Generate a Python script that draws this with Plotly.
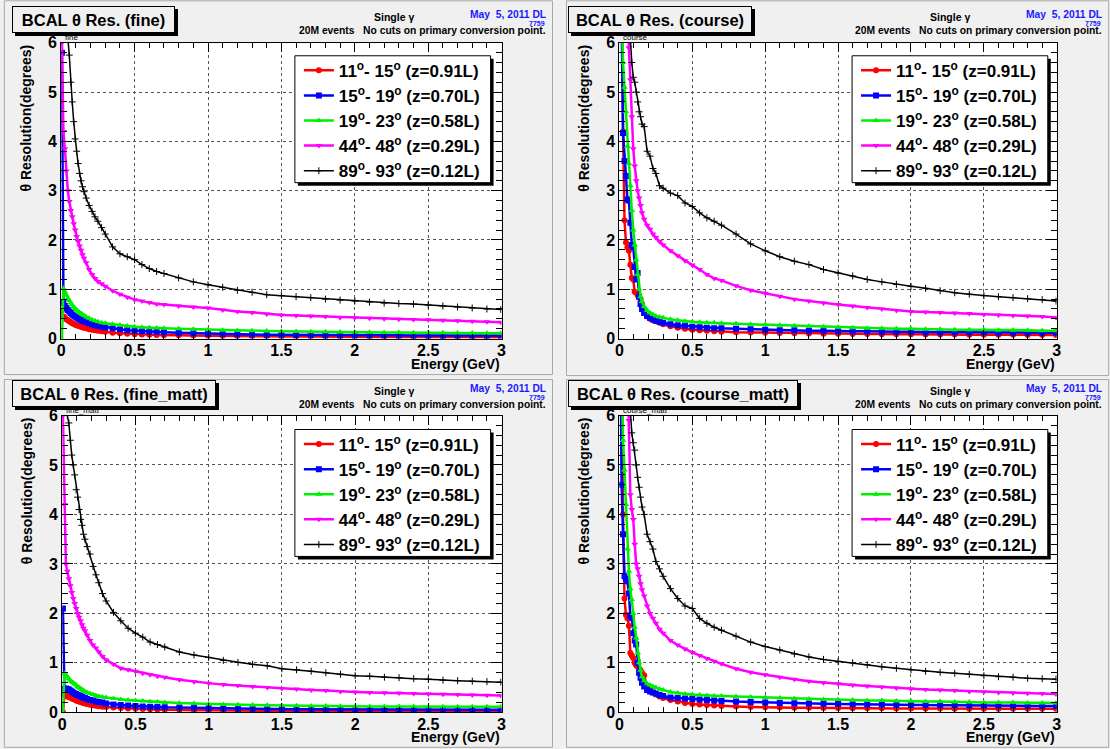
import plotly.graph_objects as go

W, H = 1110, 749

energy = [0.005, 0.015, 0.025, 0.035, 0.045, 0.055, 0.065, 0.075, 0.085, 0.095,
          0.105, 0.115, 0.125, 0.135, 0.145, 0.155, 0.17, 0.19, 0.21, 0.23,
          0.25, 0.275, 0.3, 0.35, 0.4, 0.45, 0.5, 0.55, 0.6, 0.65,
          0.7, 0.8, 0.9, 1.0, 1.1, 1.2, 1.3, 1.4, 1.5, 1.6,
          1.7, 1.8, 1.9, 2.0, 2.1, 2.2, 2.3, 2.4, 2.5, 2.6,
          2.7, 2.8, 2.9, 2.995]

# ---- pad "fine"
fine_red = [0.57, 0.45, 0.42, 0.39, 0.37, 0.35, 0.33, 0.31, 0.30, 0.28,
            0.27, 0.26, 0.25, 0.24, 0.23, 0.22, 0.21, 0.19, 0.18, 0.17,
            0.16, 0.15, 0.14, 0.12, 0.11, 0.10, 0.09, 0.085, 0.08, 0.075,
            0.07, 0.065, 0.06, 0.055, 0.05, 0.05, 0.045, 0.045, 0.04, 0.04,
            0.04, 0.035, 0.035, 0.035, 0.03, 0.03, 0.03, 0.03, 0.03, 0.025,
            0.025, 0.025, 0.025, 0.025]
fine_blue = [5.8, 0.72, 0.66, 0.62, 0.58, 0.55, 0.52, 0.49, 0.47, 0.45,
             0.43, 0.41, 0.39, 0.38, 0.36, 0.35, 0.33, 0.31, 0.29, 0.27,
             0.26, 0.24, 0.23, 0.21, 0.19, 0.17, 0.16, 0.15, 0.145, 0.14,
             0.13, 0.12, 0.11, 0.10, 0.095, 0.09, 0.085, 0.08, 0.08, 0.075,
             0.075, 0.07, 0.07, 0.07, 0.065, 0.065, 0.065, 0.06, 0.06, 0.06,
             0.06, 0.06, 0.06, 0.06]
fine_green = [0.0, 1.02, 0.95, 0.88, 0.82, 0.77, 0.72, 0.68, 0.64, 0.61,
              0.58, 0.55, 0.53, 0.51, 0.49, 0.47, 0.44, 0.41, 0.38, 0.36,
              0.34, 0.32, 0.31, 0.29, 0.27, 0.255, 0.24, 0.23, 0.22, 0.215,
              0.21, 0.2, 0.19, 0.18, 0.17, 0.165, 0.16, 0.155, 0.15, 0.145,
              0.14, 0.14, 0.135, 0.13, 0.13, 0.125, 0.125, 0.12, 0.12, 0.12,
              0.115, 0.115, 0.11, 0.11]
fine_magenta = [6.0, 4.2, 3.85, 3.4, 3.0, 2.78, 2.6, 2.47, 2.33, 2.2,
                2.07, 1.97, 1.88, 1.79, 1.70, 1.63, 1.54, 1.40, 1.30, 1.22,
                1.16, 1.11, 1.06, 0.97, 0.9, 0.84, 0.79, 0.76, 0.73, 0.70,
                0.69, 0.66, 0.64, 0.62, 0.58, 0.55, 0.53, 0.50, 0.48, 0.47,
                0.46, 0.45, 0.43, 0.42, 0.41, 0.40, 0.39, 0.385, 0.38, 0.37,
                0.36, 0.35, 0.34, 0.33]
fine_black = [9.0, 9.0, 8.0, 7.0, 6.1, 5.75, 5.2, 4.8, 4.4, 4.05,
              3.8, 3.55, 3.35, 3.2, 3.08, 2.98, 2.85, 2.7, 2.58, 2.47,
              2.38, 2.25, 2.12, 1.86, 1.72, 1.66, 1.60, 1.50, 1.42, 1.36,
              1.32, 1.23, 1.15, 1.09, 1.04, 0.98, 0.94, 0.89, 0.87, 0.85,
              0.83, 0.80, 0.78, 0.76, 0.74, 0.72, 0.71, 0.70, 0.68, 0.66,
              0.64, 0.62, 0.60, 0.59]

# ---- pad "course"
course_red = [8.0, 8.0, 4.2, 2.4, 1.95, 1.85, 1.78, 1.5, 1.23, 1.2,
              0.95, 0.93, 0.88, 0.85, 0.8, 0.7, 0.52, 0.45, 0.40, 0.37,
              0.35, 0.32, 0.29, 0.25, 0.22, 0.2, 0.18, 0.17, 0.16, 0.15,
              0.14, 0.13, 0.125, 0.12, 0.115, 0.11, 0.105, 0.1, 0.1, 0.095,
              0.095, 0.09, 0.09, 0.09, 0.085, 0.085, 0.085, 0.08, 0.08, 0.08,
              0.08, 0.075, 0.075, 0.075]
course_blue = [8.0, 6.5, 4.17, 3.6, 3.3, 2.82, 2.8, 2.35, 1.9, 1.85,
               1.45, 1.2, 1.33, 0.85, 0.7, 0.6, 0.52, 0.46, 0.42, 0.39,
               0.36, 0.34, 0.32, 0.29, 0.27, 0.26, 0.24, 0.23, 0.22, 0.21,
               0.21, 0.2, 0.19, 0.18, 0.17, 0.17, 0.16, 0.16, 0.15, 0.15,
               0.15, 0.14, 0.14, 0.14, 0.13, 0.13, 0.13, 0.13, 0.13, 0.12,
               0.12, 0.12, 0.12, 0.12]
course_green = [8.0, 6.5, 5.6, 5.1, 4.6, 3.9, 3.55, 3.1, 2.6, 2.2,
                1.9, 1.6, 1.3, 1.0, 0.85, 0.75, 0.65, 0.57, 0.52, 0.49,
                0.46, 0.44, 0.42, 0.39, 0.37, 0.35, 0.34, 0.33, 0.32, 0.32,
                0.31, 0.3, 0.29, 0.28, 0.27, 0.26, 0.25, 0.24, 0.23, 0.22,
                0.21, 0.21, 0.2, 0.2, 0.19, 0.19, 0.18, 0.18, 0.18, 0.17,
                0.17, 0.17, 0.16, 0.16]
course_magenta = [9.0, 9.0, 9.0, 8.5, 7.5, 6.6, 5.9, 5.25, 4.5, 3.85,
                  3.5, 3.2, 3.0, 2.85, 2.7, 2.55, 2.42, 2.3, 2.22, 2.12,
                  2.05, 1.97, 1.9, 1.78, 1.68, 1.58, 1.49, 1.4, 1.3, 1.22,
                  1.18, 1.07, 0.98, 0.92, 0.86, 0.8, 0.76, 0.72, 0.69, 0.66,
                  0.63, 0.6, 0.57, 0.55, 0.54, 0.53, 0.52, 0.51, 0.49, 0.48,
                  0.47, 0.46, 0.45, 0.43]
course_black = [9.0, 9.0, 9.0, 9.0, 9.0, 8.0, 7.0, 6.1, 5.6, 5.3,
                5.2, 5.0, 4.8, 4.6, 4.5, 4.35, 4.3, 3.8, 3.7, 3.45,
                3.35, 3.1, 3.05, 2.95, 2.9, 2.75, 2.68, 2.55, 2.45, 2.38,
                2.3, 2.12, 1.92, 1.78, 1.66, 1.57, 1.5, 1.40, 1.33, 1.27,
                1.2, 1.15, 1.1, 1.06, 1.02, 0.97, 0.93, 0.9, 0.87, 0.85,
                0.83, 0.81, 0.79, 0.76]

# ---- pad "fine_matt"
fmatt_red = [0.0, 0.35, 0.34, 0.32, 0.31, 0.30, 0.28, 0.27, 0.26, 0.24,
             0.23, 0.22, 0.21, 0.2, 0.19, 0.18, 0.17, 0.155, 0.145, 0.135,
             0.125, 0.115, 0.105, 0.095, 0.085, 0.075, 0.07, 0.065, 0.06, 0.055,
             0.05, 0.045, 0.04, 0.04, 0.035, 0.035, 0.035, 0.03, 0.03, 0.03,
             0.03, 0.025, 0.025, 0.025, 0.025, 0.025, 0.02, 0.02, 0.02, 0.02,
             0.02, 0.02, 0.02, 0.02]
fmatt_blue = [2.1, 0.48, 0.48, 0.47, 0.46, 0.44, 0.42, 0.40, 0.38, 0.37,
              0.35, 0.34, 0.33, 0.31, 0.3, 0.29, 0.27, 0.25, 0.24, 0.22,
              0.21, 0.2, 0.18, 0.16, 0.15, 0.14, 0.13, 0.12, 0.115, 0.11,
              0.1, 0.095, 0.09, 0.08, 0.075, 0.07, 0.07, 0.065, 0.065, 0.06,
              0.06, 0.06, 0.055, 0.055, 0.055, 0.055, 0.05, 0.05, 0.05, 0.05,
              0.05, 0.05, 0.05, 0.05]
fmatt_green = [0.0, 0.78, 0.76, 0.72, 0.68, 0.65, 0.62, 0.6, 0.57, 0.55,
               0.52, 0.5, 0.48, 0.46, 0.44, 0.42, 0.4, 0.38, 0.36, 0.34,
               0.32, 0.31, 0.3, 0.28, 0.26, 0.25, 0.24, 0.23, 0.22, 0.21,
               0.2, 0.19, 0.18, 0.17, 0.16, 0.155, 0.15, 0.145, 0.14, 0.135,
               0.13, 0.13, 0.125, 0.125, 0.12, 0.12, 0.12, 0.12, 0.115, 0.115,
               0.115, 0.115, 0.115, 0.115]
fmatt_magenta = [6.0, 4.2, 3.0, 2.85, 2.7, 2.56, 2.42, 2.3, 2.2, 2.1,
                 2.0, 1.92, 1.85, 1.77, 1.70, 1.65, 1.56, 1.45, 1.36, 1.3,
                 1.22, 1.13, 1.06, 0.97, 0.89, 0.86, 0.83, 0.79, 0.76, 0.73,
                 0.71, 0.66, 0.62, 0.59, 0.56, 0.54, 0.52, 0.5, 0.48, 0.47,
                 0.45, 0.44, 0.42, 0.41, 0.4, 0.395, 0.39, 0.38, 0.37, 0.365,
                 0.36, 0.35, 0.345, 0.34]
fmatt_black = [9.0, 9.0, 7.0, 6.0, 5.85, 5.5, 5.2, 5.0, 4.8, 4.5,
               4.35, 4.1, 3.9, 3.78, 3.6, 3.5, 3.35, 3.2, 2.95, 2.78,
               2.62, 2.4, 2.25, 2.02, 1.85, 1.7, 1.6, 1.52, 1.42, 1.37,
               1.32, 1.22, 1.16, 1.11, 1.05, 1.01, 0.97, 0.94, 0.88, 0.86,
               0.83, 0.80, 0.77, 0.74, 0.73, 0.71, 0.70, 0.68, 0.67, 0.65,
               0.64, 0.63, 0.62, 0.61]

# ---- pad "course_matt"
cmatt_red = [8.0, 8.0, 4.0, 2.3, 1.97, 1.9, 1.75, 1.2, 1.15, 1.1,
             1.0, 0.95, 0.92, 0.88, 0.85, 0.8, 0.75, 0.5, 0.45, 0.4,
             0.36, 0.32, 0.29, 0.25, 0.22, 0.19, 0.17, 0.16, 0.15, 0.14,
             0.13, 0.12, 0.11, 0.1, 0.095, 0.09, 0.09, 0.085, 0.085, 0.08,
             0.08, 0.08, 0.075, 0.075, 0.075, 0.075, 0.07, 0.07, 0.07, 0.07,
             0.07, 0.07, 0.07, 0.07]
cmatt_blue = [8.0, 4.6, 3.6, 2.75, 2.7, 2.65, 2.4, 1.95, 1.9, 1.6,
              1.45, 1.37, 1.0, 0.8, 0.7, 0.6, 0.52, 0.45, 0.42, 0.4,
              0.38, 0.35, 0.33, 0.3, 0.29, 0.28, 0.27, 0.26, 0.25, 0.24,
              0.23, 0.22, 0.21, 0.2, 0.19, 0.185, 0.18, 0.175, 0.17, 0.165,
              0.16, 0.16, 0.155, 0.15, 0.15, 0.145, 0.145, 0.14, 0.14, 0.14,
              0.135, 0.135, 0.13, 0.13]
cmatt_green = [8.0, 6.5, 5.5, 4.9, 4.2, 3.3, 2.85, 2.5, 2.28, 2.0,
               1.72, 1.5, 1.2, 1.0, 0.85, 0.72, 0.64, 0.58, 0.55, 0.52,
               0.5, 0.47, 0.45, 0.41, 0.39, 0.37, 0.36, 0.35, 0.34, 0.33,
               0.33, 0.32, 0.31, 0.3, 0.29, 0.28, 0.27, 0.26, 0.26, 0.25,
               0.24, 0.24, 0.23, 0.23, 0.22, 0.22, 0.21, 0.21, 0.2, 0.2,
               0.2, 0.19, 0.19, 0.19]
cmatt_magenta = [9.0, 9.0, 9.0, 9.0, 8.5, 7.0, 5.9, 4.4, 4.1, 3.9,
                 3.4, 3.0, 2.9, 2.75, 2.6, 2.48, 2.35, 2.15, 2.0, 1.9,
                 1.8, 1.68, 1.6, 1.45, 1.36, 1.28, 1.21, 1.15, 1.09, 1.03,
                 0.98, 0.88, 0.81, 0.76, 0.71, 0.67, 0.63, 0.6, 0.58, 0.55,
                 0.53, 0.51, 0.49, 0.47, 0.46, 0.45, 0.44, 0.42, 0.41, 0.4,
                 0.39, 0.385, 0.38, 0.37]
cmatt_black = [9.0, 9.0, 9.0, 9.0, 9.0, 8.0, 7.0, 6.1, 5.65, 5.45,
               5.3, 5.0, 4.75, 4.55, 4.35, 4.15, 4.0, 3.6, 3.45, 3.3,
               3.05, 2.9, 2.75, 2.5, 2.3, 2.15, 2.1, 1.9, 1.8, 1.72,
               1.66, 1.54, 1.42, 1.33, 1.26, 1.18, 1.12, 1.07, 1.03, 1.0,
               0.96, 0.92, 0.89, 0.86, 0.83, 0.81, 0.79, 0.77, 0.74, 0.72,
               0.71, 0.69, 0.68, 0.67]

series_labels = ["11<sup>o</sup>- 15<sup>o</sup> (z=0.91L)",
                 "15<sup>o</sup>- 19<sup>o</sup> (z=0.70L)",
                 "19<sup>o</sup>- 23<sup>o</sup> (z=0.58L)",
                 "44<sup>o</sup>- 48<sup>o</sup> (z=0.29L)",
                 "89<sup>o</sup>- 93<sup>o</sup> (z=0.12L)"]
pad_names = ["fine", "course", "fine_matt", "course_matt"]
pad_titles = ["BCAL \u03b8 Res. (fine)", "BCAL \u03b8 Res. (course)",
              "BCAL \u03b8 Res. (fine_matt)", "BCAL \u03b8 Res. (course_matt)"]
pad_data = [
    [fine_red, fine_blue, fine_green, fine_magenta, fine_black],
    [course_red, course_blue, course_green, course_magenta, course_black],
    [fmatt_red, fmatt_blue, fmatt_green, fmatt_magenta, fmatt_black],
    [cmatt_red, cmatt_blue, cmatt_green, cmatt_magenta, cmatt_black],
]
y_title = "\u03b8 Resolution(degrees)"
x_title = "Energy (GeV)"

colors = ["#ff0000", "#0000ff", "#00ee00", "#ff00ff", "#000000"]
symbols = ["circle", "square", "triangle-up", "triangle-down", "cross-thin"]

FONT = "Liberation Sans"

# screen-pixel -> paper fraction (the paper is photographed inside a small border)
AX, BX = 2.7, 1102.6
AY, BY = 8.2, 732.5

def fx(p):
    return (p - AX) / BX

def fy(p):
    return 1 - (p - AY) / BY

# layout geometry (screen pixels)
pads = [
    dict(box=(0, 0, 553, 376), plot=(60, 43, 501, 339), ox=0, oy=0, right=553),
    dict(box=(563, 0, 1110, 377), plot=(619, 43, 1057, 339), ox=557, oy=0, right=1110),
    dict(box=(0, 379, 553, 749), plot=(61, 416, 501, 713), ox=0, oy=374, right=553),
    dict(box=(563, 379, 1110, 749), plot=(619, 416, 1057, 713), ox=557, oy=374, right=1110),
]
title_widths = [155, 176, 196, 222]
legend_pos = [(294, 56), (852, 56), (294, 430), (852, 430)]
LEG_W, LEG_H = 196, 127

fig = go.Figure()
shapes = []
annotations = []
layout = dict(width=W, height=H, margin=dict(l=0, r=0, t=0, b=0),
              paper_bgcolor="#f0f0f0", plot_bgcolor="white", showlegend=True)

for i, pad in enumerate(pads):
    n = i + 1
    xs = "" if n == 1 else str(n)
    x0, y0, x1, y1 = pad["plot"]
    tickfont = dict(family=FONT, size=16, color="black", weight="bold")
    common = dict(showline=True, linecolor="black", linewidth=1, mirror="ticks",
                  ticks="inside", tickcolor="black", tickwidth=1,
                  showgrid=True, gridcolor="#555555", griddash="dot", gridwidth=1,
                  zeroline=False, tickfont=tickfont, fixedrange=True)
    layout["xaxis" + xs] = dict(common, domain=[fx(x0), fx(x1)], range=[0, 3],
                                anchor="y" + xs, tick0=0, dtick=0.5, ticklen=9,
                                ticklabelstandoff=-3,
                                minor=dict(ticks="inside", ticklen=5, dtick=0.1, tick0=0,
                                           tickcolor="black", showgrid=False))
    layout["yaxis" + xs] = dict(common, domain=[fy(y1), fy(y0)], range=[0, 6],
                                anchor="x" + xs, tick0=0, dtick=1, ticklen=11,
                                minor=dict(ticks="inside", ticklen=6, dtick=0.2, tick0=0,
                                           tickcolor="black", showgrid=False))
    leg_name = "legend" + xs
    for k in range(5):
        is_black = k == 4
        fig.add_trace(go.Scatter(
            x=energy, y=pad_data[i][k], mode="lines+markers",
            name=series_labels[k], legend=leg_name, legendgroup=f"p{n}s{k}",
            xaxis="x" + xs, yaxis="y" + xs,
            line=dict(color=colors[k], width=1.5 if is_black else 2.5),
            marker=dict(symbol=symbols[k], size=5 if is_black else 6, color=colors[k],
                        line=dict(color=colors[k], width=1 if is_black else 0)),
        ))
    lx, ly = legend_pos[i]
    # legend shadow and box
    shapes.append(dict(type="rect", xref="paper", yref="paper", layer="above",
                       x0=fx(lx + 3), x1=fx(lx + LEG_W + 3), y0=fy(ly + LEG_H + 3), y1=fy(ly + 3),
                       fillcolor="black", line=dict(width=0)))
    shapes.append(dict(type="rect", xref="paper", yref="paper", layer="above",
                       x0=fx(lx), x1=fx(lx + LEG_W), y0=fy(ly + LEG_H), y1=fy(ly),
                       fillcolor="white", line=dict(color="black", width=1)))
    layout[leg_name] = dict(x=fx(lx + 4), y=fy(ly - 3), xanchor="left", yanchor="top",
                            bgcolor="rgba(0,0,0,0)", borderwidth=0, tracegroupgap=0,
                            font=dict(family=FONT, size=17, color="black", weight="bold"),
                            itemwidth=30)
    # pad border
    bx0, by0, bx1, by1 = pad["box"]
    shapes.append(dict(type="rect", xref="paper", yref="paper", layer="below",
                       x0=fx(bx0 + 3), x1=fx(bx1 - 1), y0=fy(by1 - 1), y1=fy(by0 + 1),
                       line=dict(color="#a8a8a8", width=1), fillcolor="rgba(0,0,0,0)"))
    ox, oy, right = pad["ox"], pad["oy"], pad["right"]
    # title box (shadow then box)
    for shift, col in ((3, "black"), (0, None)):
        annotations.append(dict(
            text=pad_titles[i], xref="paper", yref="paper",
            x=fx(ox + 11), y=fy(oy + 6), xanchor="left", yanchor="top",
            xshift=shift, yshift=-shift, showarrow=False,
            width=title_widths[i], height=19, align="center", valign="middle",
            font=dict(family=FONT, size=16.5, color="black", weight="bold"),
            bgcolor="black" if col else "#f0f0f0", bordercolor="black", borderwidth=1,
            borderpad=3))
    # header texts
    annotations.append(dict(text="Single \u03b3", xref="paper", yref="paper",
                            x=fx(ox + 393), y=fy(oy + 17), xanchor="center", yanchor="middle",
                            showarrow=False,
                            font=dict(family=FONT, size=10.5, color="black", weight="bold")))
    annotations.append(dict(text="May  5, 2011 DL", xref="paper", yref="paper",
                            x=fx(right - 6), y=fy(oy + 15), xanchor="right", yanchor="middle",
                            showarrow=False,
                            font=dict(family=FONT, size=10.3, color="#1a1aff", weight="bold")))
    annotations.append(dict(text="7759", xref="paper", yref="paper",
                            x=fx(right - 7), y=fy(oy + 24), xanchor="right", yanchor="middle",
                            showarrow=False,
                            font=dict(family=FONT, size=7, color="#1a1aff", weight="bold")))
    annotations.append(dict(text="20M events   No cuts on primary conversion point.",
                            xref="paper", yref="paper",
                            x=fx(right - 6), y=fy(oy + 31), xanchor="right", yanchor="middle",
                            showarrow=False,
                            font=dict(family=FONT, size=10.3, color="black", weight="bold")))
    annotations.append(dict(text=pad_names[i], xref="paper", yref="paper",
                            x=fx(x0 + 2), y=fy(y0 - 5), xanchor="left", yanchor="middle",
                            showarrow=False,
                            font=dict(family=FONT, size=8, color="black")))
    # axis titles
    annotations.append(dict(text=y_title, xref="paper", yref="paper",
                            x=fx(x0 - 35), y=fy(y0), xanchor="center", yanchor="top",
                            textangle=-90, showarrow=False,
                            font=dict(family=FONT, size=14, color="black", weight="bold")))
    annotations.append(dict(text=x_title, xref="paper", yref="paper",
                            x=fx(x1), y=fy(y1 + 25), xanchor="right", yanchor="middle",
                            showarrow=False,
                            font=dict(family=FONT, size=14, color="black", weight="bold")))

layout["shapes"] = shapes
layout["annotations"] = annotations
fig.update_layout(**layout)
fig.write_html("out.html")
